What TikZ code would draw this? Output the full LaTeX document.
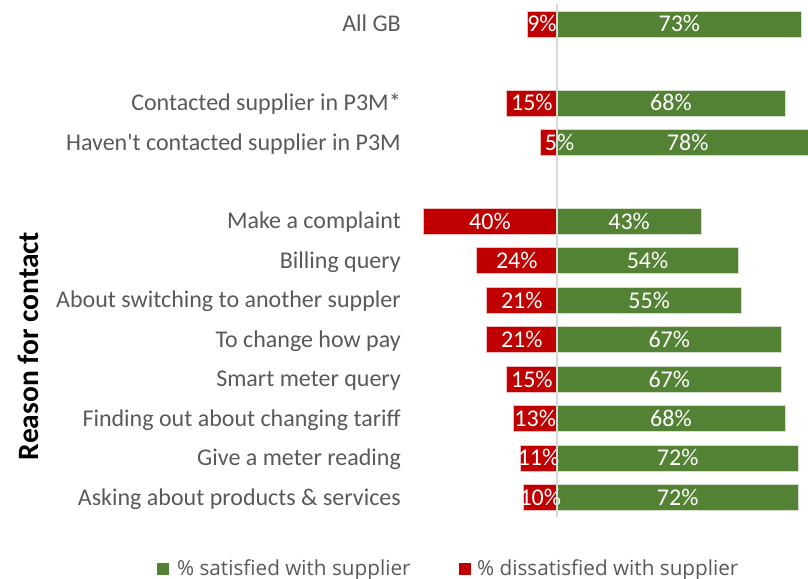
\documentclass[tikz,border=0pt]{standalone}
\usepackage{fontspec}
\setmainfont{Carlito}[Ligatures=TeXOff]
\newfontfamily\legendfont{Open Sans}
\definecolor{satgreen}{HTML}{548235}
\definecolor{dissred}{HTML}{C00000}
\definecolor{labelgrey}{HTML}{595959}
\definecolor{axisgrey}{HTML}{D9D9D9}
\begin{document}
\begin{tikzpicture}[x=1pt,y=-1pt,
  rowlabel/.style={anchor=base east, text=labelgrey, inner sep=0pt,
    font=\fontsize{24}{28}\selectfont},
  vallabel/.style={anchor=base, text=white, inner sep=0pt,
    font=\fontsize{24}{28}\selectfont},
  satbar/.style={fill=satgreen, draw=white!75!satgreen, line width=0.6pt},
  dissbar/.style={fill=dissred, draw=white!75!dissred, line width=0.6pt},
  legkey/.style={minimum size=12pt, inner sep=0pt},
  legtext/.style={anchor=base west, text=labelgrey, inner sep=0pt,
    font=\legendfont\fontsize{20.7}{24}\selectfont},
]
\useasboundingbox (0,0) rectangle (808,578);
\clip (0,0) rectangle (808,578);

% scale: pixels per percentage point, half bar height, zero line
\def\pp{3.352}
\def\bh{13}
\def\zero{557}

% name / row / label / % satisfied / % dissatisfied / shift of red value
\foreach \name/\row/\txt/\sat/\dis/\dx in {
  allgb/0/All GB/73/9/0,
  contacted/2/Contacted supplier in P3M*/68/15/0,
  notcontacted/3/Haven't contacted supplier in P3M/78/5/11,
  complaint/5/Make a complaint/43/40/0,
  billing/6/Billing query/54/24/0,
  switching/7/About switching to another suppler/55/21/0,
  changepay/8/To change how pay/67/21/0,
  smart/9/Smart meter query/67/15/0,
  tariff/10/Finding out about changing tariff/68/13/0,
  reading/11/Give a meter reading/72/11/0,
  products/12/Asking about products \& services/72/10/0}
{
  \pgfmathsetmacro\yc{24+\row*39.45}
  \draw[satbar] (\zero,\yc-\bh) rectangle (\zero+\sat*\pp,\yc+\bh);
  \draw[dissbar] (\zero-\dis*\pp,\yc-\bh) rectangle (\zero,\yc+\bh);
  \node[rowlabel] (lab-\name) at (401,\yc+7.7) {\txt};
  \node[vallabel] (sat-\name) at (\zero+\sat*\pp/2,\yc+8) {\sat\%};
  \node[vallabel] (dis-\name) at (\zero-\dis*\pp/2+\dx,\yc+8) {\dis\%};
}

% zero axis
\coordinate (axtop) at (\zero,4);
\coordinate (axbot) at (\zero,517);
\draw[axisgrey, line width=1.5pt] (axtop) -- (axbot);

% axis title
\node[rotate=90, inner sep=0pt, text=black,
  font=\bfseries\fontsize{29.5}{33}\selectfont] (axtitle) at (28,346) {Reason for contact};

% legend
\node[legkey, fill=satgreen] (legsat) at (163,569) {};
\node[legtext] (legsattxt) at (177,575.5) {\% satisfied with supplier};
\node[legkey, fill=dissred] (legdis) at (464.5,569) {};
\node[legtext] (legdistxt) at (477,575.5) {\% dissatisfied with supplier};
\end{tikzpicture}
\end{document}
